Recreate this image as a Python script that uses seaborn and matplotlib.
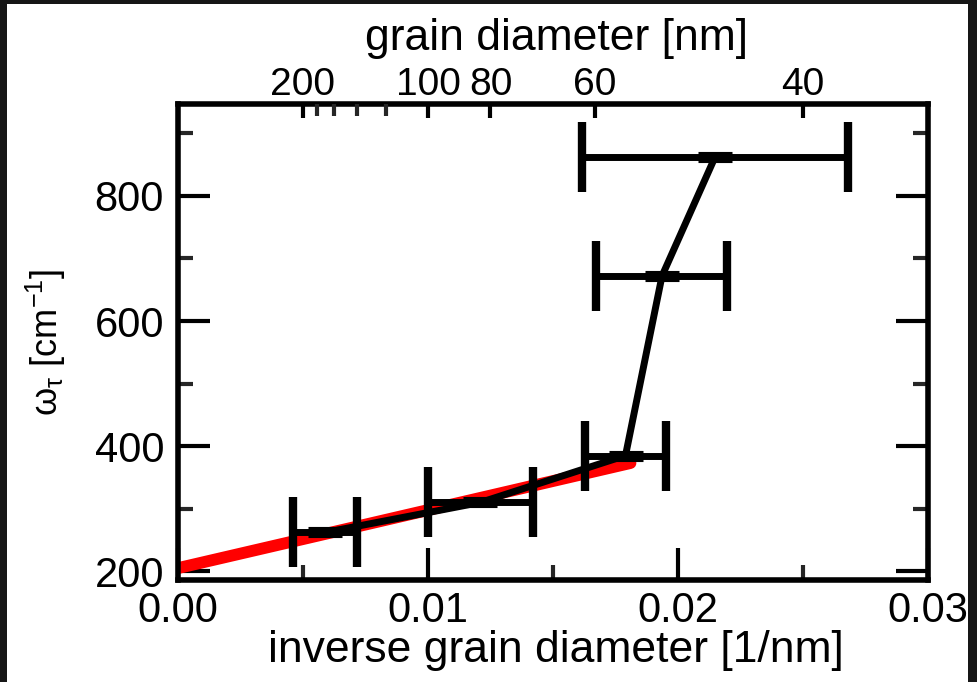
import numpy as np
import pandas as pd
import matplotlib
matplotlib.use("Agg")
import matplotlib.pyplot as plt
from matplotlib.patches import Rectangle
from matplotlib.ticker import MultipleLocator
import seaborn as sns

# ---- data ----
inv_diameter = [0.00588, 0.0121, 0.0179, 0.01936, 0.02148]      # 1/nm
omega_tau = [262, 310, 385, 672, 862]                           # cm^-1
inv_diameter_err = [0.00128, 0.0021, 0.00164, 0.00262, 0.00532]

fit_x = [0.0, 0.0181]
fit_y = [205, 373]

x_ticks = [0.0, 0.01, 0.02, 0.03]
x_tick_labels = ["0.00", "0.01", "0.02", "0.03"]
y_ticks = [200, 400, 600, 800]
top_major_nm = [200, 100, 80, 60, 40]
top_minor_nm = [180, 160, 140, 120]

sns.set_theme(style="white")
plt.rcParams["font.family"] = ["Liberation Sans", "DejaVu Sans"]
plt.rcParams["mathtext.fontset"] = "custom"
plt.rcParams["mathtext.rm"] = "Liberation Sans"
plt.rcParams["mathtext.it"] = "Liberation Sans:italic"

fig = plt.figure(figsize=(9.78, 6.82), dpi=100)
fig.patch.set_facecolor("#161616")
bg = Rectangle((7 / 978, 0), (968 - 7) / 978, (682 - 4) / 682,
               transform=fig.transFigure, facecolor="white",
               edgecolor="none", zorder=-10)
fig.patches.append(bg)

ax = fig.add_axes([178 / 978, (682 - 580) / 682, 750 / 978, 476 / 682])
ax.set_facecolor("white")

df = pd.DataFrame({"x": inv_diameter, "y": omega_tau})
fit_df = pd.DataFrame({"x": fit_x, "y": fit_y})

sns.lineplot(data=fit_df, x="x", y="y", ax=ax, color="#ff0000", linewidth=8.5,
             solid_capstyle="round", zorder=2)
ax.errorbar(inv_diameter, omega_tau, xerr=inv_diameter_err, fmt="none",
            ecolor="black", elinewidth=5, capsize=25, capthick=6, zorder=3)
sns.lineplot(data=df, x="x", y="y", ax=ax, color="black", linewidth=5,
             sort=False, estimator=None, marker="_", markersize=24,
             markeredgewidth=8, markeredgecolor="black", zorder=4)

ax.set_xlim(0, 0.03)
ax.set_ylim(186, 947)
ax.set_xticks(x_ticks)
ax.set_xticklabels(x_tick_labels)
ax.set_yticks(y_ticks)
ax.xaxis.set_minor_locator(MultipleLocator(0.005))
ax.yaxis.set_minor_locator(MultipleLocator(100))

ax.tick_params(axis="both", which="major", direction="in", length=23, width=3,
               labelsize=30, colors="black", top=False, right=True, bottom=True, left=True)
ax.tick_params(axis="both", which="minor", direction="in", length=11, width=3,
               top=False, right=True, bottom=True, left=True)
ax.tick_params(axis="x", which="major", pad=8)
ax.tick_params(axis="y", which="major", pad=10)

for s in ax.spines.values():
    s.set_linewidth(4)
    s.set_color("black")
    s.set_visible(True)

ax.set_xlabel("inverse grain diameter [1/nm]", fontsize=32, color="black")
ax.xaxis.set_label_coords(0.504, -0.104)
ax.set_ylabel("ω$_{\\mathrm{τ}}$ [cm$^{\\mathrm{-1}}$]", fontsize=26, color="black")
ax.yaxis.set_label_coords(-0.147, 0.50)

# top axis: grain diameter
ax2 = ax.twiny()
ax2.set_xlim(ax.get_xlim())
ax2.set_xticks([1.0 / d for d in top_major_nm])
ax2.set_xticklabels([str(d) for d in top_major_nm])
ax2.set_xticks([1.0 / d for d in top_minor_nm], minor=True)
ax2.tick_params(axis="x", which="major", direction="in", length=10, width=3,
                labelsize=28, pad=1, colors="black")
ax2.tick_params(axis="x", which="minor", direction="in", length=8.5, width=3)
ax2.set_xlabel("grain diameter [nm]", fontsize=32, color="black")
ax2.xaxis.set_label_coords(0.505, 1.114)
for s in ax2.spines.values():
    s.set_visible(False)
ax2.grid(False)
ax.grid(False)

fig.savefig("out.png", dpi=100, facecolor=fig.get_facecolor())
